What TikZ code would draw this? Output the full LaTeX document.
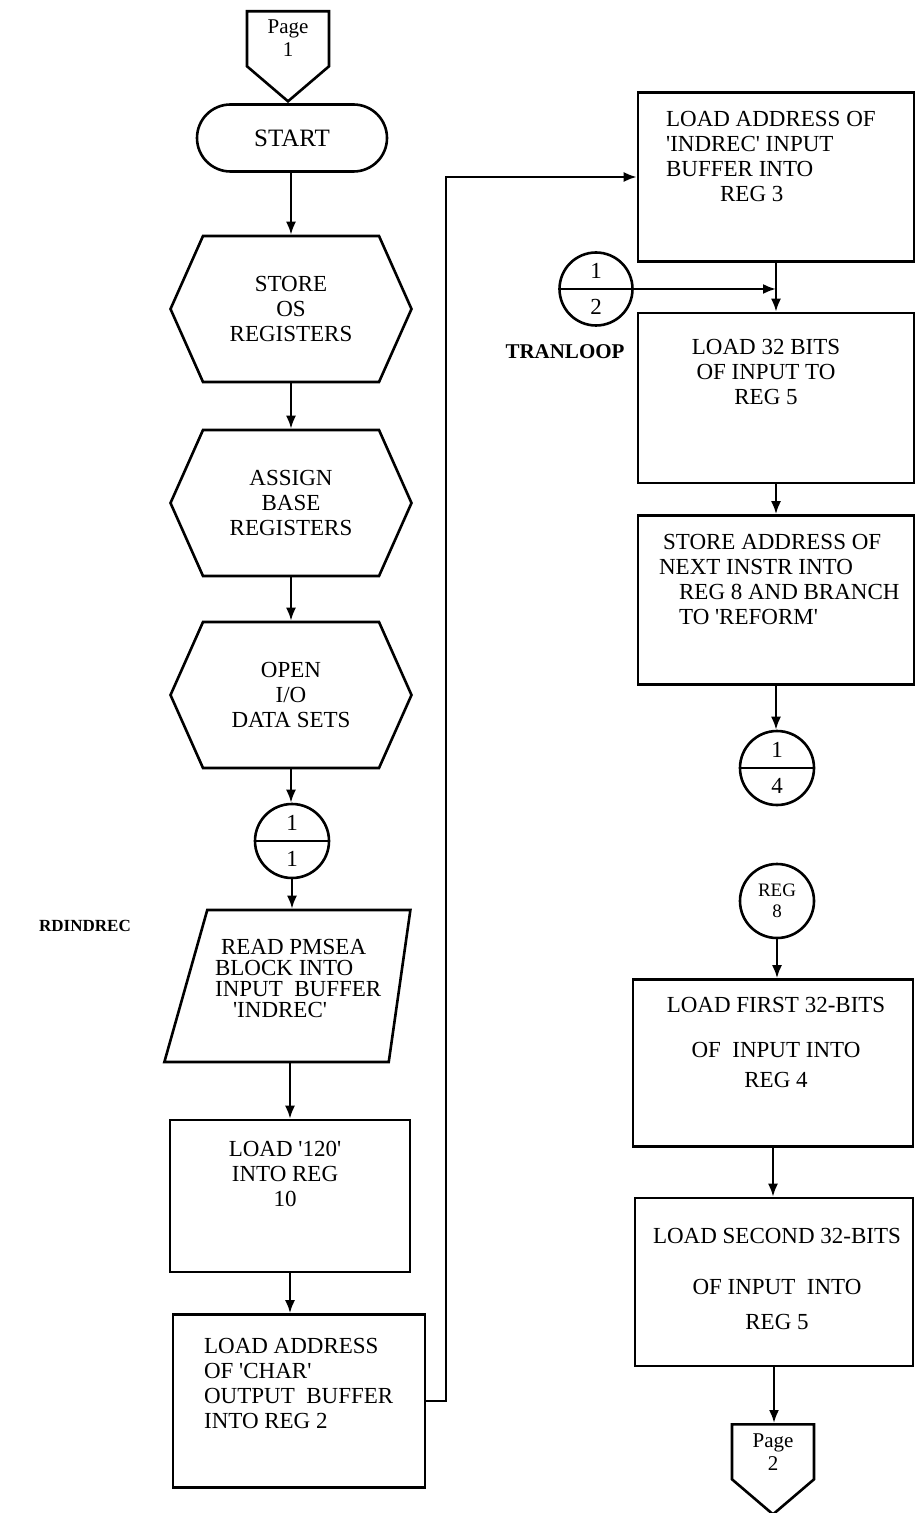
\documentclass[tikz,border=0pt]{standalone}
\usepackage{fontspec}
\setmainfont{Liberation Serif}
\usetikzlibrary{shapes.geometric,shapes.misc,shapes.symbols,arrows.meta}
\newcommand{\qt}{\textquotesingle}

\tikzset{
  chart/.style={x=0.5pt,y=-0.5pt,line width=1.1pt,
    every node/.style={font=\fontsize{11.5}{12.5}\selectfont,inner sep=0pt,align=center}},
  shp/.style={draw,line width=1.3pt},
  procbox/.style={shp,rectangle,minimum width=138pt},
  hexbox/.style={shp,signal,signal to=west and east,signal pointer angle=132,
    minimum width=120.5pt,minimum height=73pt},
  pagebox/.style={shp,signal,signal to=south,signal pointer angle=99,
    minimum width=41pt,minimum height=27.5pt},
  connbox/.style={shp,circle,minimum size=37pt,
    append after command={(\tikzlastnode.west) edge[line width=1.3pt] (\tikzlastnode.east)}},
  iobox/.style={shp,trapezium,trapezium stretches=true,trapezium left angle=76.7,
    trapezium right angle=96.8,inner sep=2pt,minimum height=76pt,minimum width=123pt},
  flow/.style={-{Latex[length=6.5pt,width=5pt]}},
  lbl/.style={font=\fontsize{10.5}{12}\selectfont\bfseries},
  small/.style={font=\fontsize{10.5}{11.5}\selectfont}
}

\begin{document}
\begin{tikzpicture}[chart]
\useasboundingbox (0,0) rectangle (921,1513);

% left column
\node[pagebox,anchor=north] (pg1) at (288,10) {};
\node[small] (pg1t) at (288,38) {Page\\1};
\node[shp,rounded rectangle,minimum width=95pt,minimum height=33.5pt,
  font=\fontsize{12.5}{13}\selectfont] (start) at (292,138) {START};
\node[hexbox] (store) at (291,309) {STORE\\OS\\REGISTERS};
\node[hexbox] (assign) at (291,503) {ASSIGN\\BASE\\REGISTERS};
\node[hexbox] (open) at (291,695) {OPEN\\I/O\\DATA SETS};
\node[connbox] (c11) at (292,841) {1\\[5.5pt]1};
\node[iobox] (read) at (298,986) {};
\node[align=left,anchor=west,font=\fontsize{11.5}{10.5}\selectfont] (readt) at (214,978)
  {\hspace*{3pt}READ PMSEA\\BLOCK INTO\\INPUT\ \ BUFFER\\\hspace*{9pt}\qt INDREC\qt};
\node[lbl,font=\fontsize{8.5}{10}\selectfont\bfseries] (rdindrec) at (85,926) {RDINDREC};
\node[procbox,minimum width=120pt,minimum height=76pt] (ld120) at (290,1196) {};
\node (ld120t) at (285,1174) {LOAD \qt 120\qt\\INTO REG\\10};
\node[procbox,minimum width=126pt,minimum height=86.5pt] (ldchar) at (299,1401) {};
\node[align=left,anchor=west] (ldchart) at (203,1383) {LOAD ADDRESS\\OF \qt CHAR\qt\\OUTPUT\ \ BUFFER\\INTO REG 2};

% right column
\node[procbox,minimum height=84.5pt] (ldindrec) at (776,177) {};
\node[align=left,anchor=west] (ldindrect) at (665,157) {LOAD ADDRESS OF\\\qt INDREC\qt{} INPUT\\BUFFER INTO\\\hspace*{27pt}REG 3};
\node[connbox,minimum size=36.5pt] (c12) at (596,289) {1\\[5.5pt]2};
\node[lbl] (tranloop) at (565,352) {TRANLOOP};
\node[procbox,minimum height=85pt] (ld32) at (776,398) {};
\node (ld32t) at (766,372) {LOAD 32 BITS\\OF INPUT TO\\REG 5};
\node[procbox,minimum height=84.5pt] (stinstr) at (776,600) {};
\node[align=left,anchor=west] (stinstrt) at (658,579) {\hspace*{2pt}STORE ADDRESS OF\\NEXT INSTR INTO\\\hspace*{10pt}REG 8 AND BRANCH\\\hspace*{10pt}TO \qt REFORM\qt};
\node[connbox] (c14) at (777,768) {1\\[5.5pt]4};
\node[shp,circle,minimum size=37pt,font=\fontsize{9.5}{10.5}\selectfont] (reg8) at (777,901) {REG\\8};
\node[procbox,minimum width=140pt,minimum height=83.5pt] (ldfirst) at (773,1063) {};
\node (ldfirstt) at (776,1042) {LOAD FIRST 32-BITS\\[10pt]OF\ \ INPUT INTO\\[2.5pt]REG 4};
\node[procbox,minimum width=139pt,minimum height=84pt] (ldsecond) at (774,1282) {};
\node (ldsecondt) at (777,1279) {LOAD SECOND 32-BITS\\[13pt]OF INPUT\ \ INTO\\[5pt]REG 5};
\node[pagebox,anchor=north] (pg2) at (773,1423) {};
\node[small] (pg2t) at (773,1452) {Page\\2};

% connectors
\draw (pg1.south) -- (start.north -| pg1.south);
\draw[flow] (start.south -| store.north) -- (store.north);
\draw[flow] (store.south) -- (assign.north);
\draw[flow] (assign.south) -- (open.north);
\draw[flow] (open.south) -- (open.south |- c11.north);
\draw[flow] (c11.south) -- (c11.south |- read.north);
\draw[flow] (read.south -| ld120.north) -- (ld120.north);
\draw[flow] (ld120.south) -- (ld120.south |- ldchar.north);
\draw[flow] (ldchar.east) -- ++(20,0) |- (ldindrec.west);
\coordinate (jn) at (ldindrec.south |- c12.east);
\draw[flow] (ldindrec.south) -- (ld32.north);
\draw[flow] (c12.east) -- (jn);
\draw[flow] (ld32.south) -- (stinstr.north);
\draw[flow] (stinstr.south) -- (stinstr.south |- c14.north);
\draw[flow] (reg8.south) -- (reg8.south |- ldfirst.north);
\draw[flow] (ldfirst.south) -- (ldfirst.south |- ldsecond.north);
\draw[flow] (ldsecond.south) -- (ldsecond.south |- pg2.north);
\end{tikzpicture}
\end{document}
